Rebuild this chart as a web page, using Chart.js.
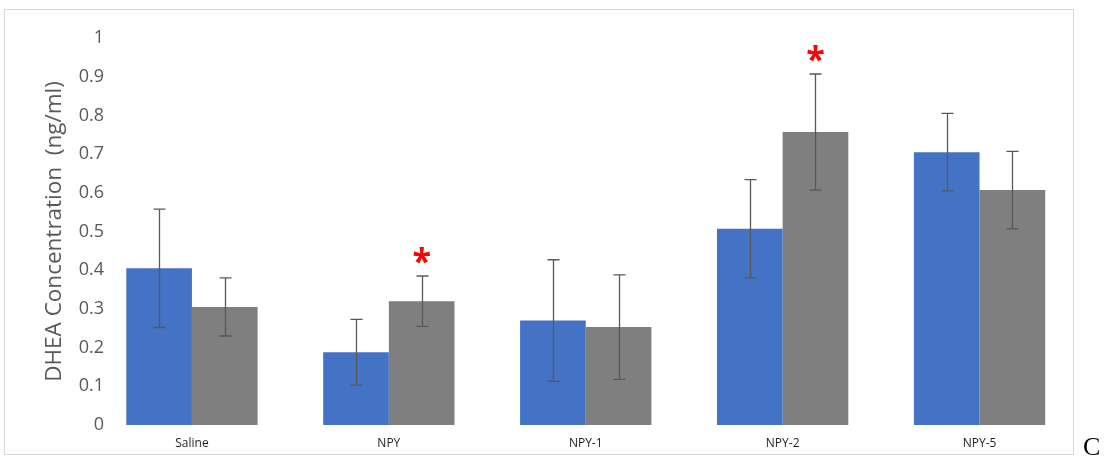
<!DOCTYPE html>
<html>
<head>
<meta charset="utf-8">
<script src="https://cdn.jsdelivr.net/npm/chart.js@4.4.1/dist/chart.umd.min.js"></script>
<style>
  html, body { margin: 0; padding: 0; background: #ffffff; }
  #wrap { position: relative; width: 1105px; height: 456px; }
</style>
</head>
<body>
<div id="wrap"><canvas id="c" width="1105" height="456"></canvas></div>
<script>
// Groups and DHEA concentrations (ng/ml)
const groups = ['Saline', 'NPY', 'NPY-1', 'NPY-2', 'NPY-5'];
const seriesA = [0.405, 0.188, 0.270, 0.507, 0.705];
const seriesB = [0.305, 0.320, 0.253, 0.757, 0.607];
// Error bar half-lengths
const errA = [0.153, 0.085, 0.157, 0.127, 0.100];
const errB = [0.075, 0.065, 0.135, 0.150, 0.100];
// Significance markers on the second series
const sigB = [false, true, false, true, false];
const yTicks = ['0', '0.1', '0.2', '0.3', '0.4', '0.5', '0.6', '0.7', '0.8', '0.9', '1'];
const yTitle = 'DHEA Concentration  (ng/ml)';
const panelLetter = 'C';

const errs = [errA, errB];

const TICK_FONT = { family: 'Open Sans', size: 18 };
const AXIS_W = 93.5;       // width of the value axis box
const LABEL_RIGHT = 104;   // right edge of the value labels

// widest value label, so the right-aligned labels end at LABEL_RIGHT
const mctx = document.createElement('canvas').getContext('2d');
mctx.font = TICK_FONT.size + 'px "' + TICK_FONT.family + '"';
const widest = Math.max(...yTicks.map(t => mctx.measureText(t).width));

const framePlugin = {
  id: 'frame',
  beforeDraw(chart) {
    const ctx = chart.ctx;
    ctx.save();
    ctx.fillStyle = '#ffffff';
    ctx.fillRect(0, 0, chart.width, chart.height);
    ctx.strokeStyle = '#d9d9d9';
    ctx.lineWidth = 1;
    ctx.strokeRect(4.5, 9.5, 1069, 445);
    ctx.fillStyle = '#000000';
    ctx.font = '26px "Liberation Serif", "DejaVu Serif", serif';
    ctx.textAlign = 'left';
    ctx.textBaseline = 'alphabetic';
    ctx.fillText(panelLetter, 1083, 455);
    ctx.restore();
  }
};

const errorBarPlugin = {
  id: 'errorBars',
  afterDatasetsDraw(chart) {
    const ctx = chart.ctx;
    const y = chart.scales.y;
    ctx.save();
    ctx.strokeStyle = '#595959';
    ctx.lineWidth = 1.3;
    chart.data.datasets.forEach((ds, i) => {
      const meta = chart.getDatasetMeta(i);
      meta.data.forEach((bar, j) => {
        const v = ds.data[j], e = errs[i][j];
        const x = Math.round(bar.x) + 0.5;
        const yt = y.getPixelForValue(v + e);
        const yb = y.getPixelForValue(v - e);
        ctx.beginPath();
        ctx.moveTo(x, yt); ctx.lineTo(x, yb);
        ctx.moveTo(x - 6, yt); ctx.lineTo(x + 6, yt);
        ctx.moveTo(x - 6, yb); ctx.lineTo(x + 6, yb);
        ctx.stroke();
      });
    });
    // asterisks above significant bars
    const meta = chart.getDatasetMeta(1);
    ctx.fillStyle = '#ff0000';
    ctx.font = 'bold 34px "Open Sans", sans-serif';
    ctx.textAlign = 'center';
    ctx.textBaseline = 'middle';
    sigB.forEach((s, j) => {
      if (!s) return;
      const x = meta.data[j].x;
      const yt = y.getPixelForValue(seriesB[j] + errB[j]);
      ctx.fillText('*', x, yt - 13);
    });
    ctx.restore();
  }
};

new Chart(document.getElementById('c'), {
  type: 'bar',
  data: {
    labels: groups,
    datasets: [
      { data: seriesA, backgroundColor: '#4472c4', borderWidth: 0 },
      { data: seriesB, backgroundColor: '#7f7f7f', borderWidth: 0 }
    ]
  },
  options: {
    responsive: false,
    animation: false,
    layout: { padding: { left: 0, right: 27, top: 38, bottom: 0 } },
    datasets: { bar: { categoryPercentage: 0.667, barPercentage: 1.0 } },
    plugins: { legend: { display: false }, tooltip: { enabled: false } },
    scales: {
      x: {
        offset: true,
        grid: { display: false, drawTicks: false },
        border: { display: false },
        ticks: { color: '#1f1f1f', font: { family: 'Open Sans', size: 12 }, padding: 11, maxRotation: 0 },
        afterFit(scale) { scale.height = 31; }
      },
      y: {
        min: 0, max: 1,
        grid: { display: false, drawTicks: false },
        border: { display: false },
        ticks: {
          stepSize: 0.1,
          mirror: true,
          crossAlign: 'far',
          padding: LABEL_RIGHT - AXIS_W - widest,
          color: '#595959',
          font: TICK_FONT,
          callback: (v, i) => yTicks[i]
        },
        title: {
          display: true,
          text: yTitle,
          color: '#595959',
          font: { family: 'Open Sans', size: 22.5, weight: 'normal' },
          padding: { top: 41, bottom: 0 }
        },
        afterFit(scale) { scale.width = AXIS_W; }
      }
    }
  },
  plugins: [framePlugin, errorBarPlugin]
});
</script>
</body>
</html>
